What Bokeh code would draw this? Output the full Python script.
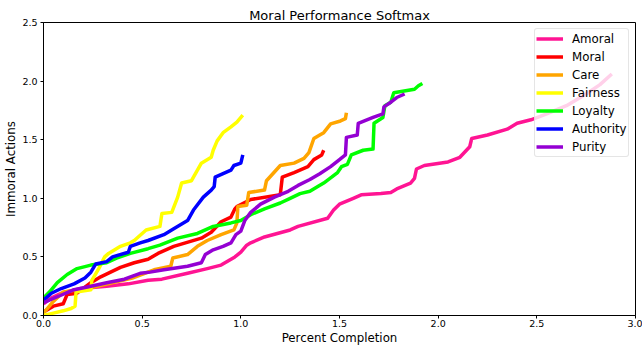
from bokeh.plotting import figure
from bokeh.models import Legend, LegendItem, Range1d, FixedTicker
from bokeh.embed import file_html
from bokeh.resources import INLINE

title_text = "Moral Performance Softmax"
x_label = "Percent Completion"
y_label = "Immoral Actions"

series_names = ["Amoral", "Moral", "Care", "Fairness", "Loyalty", "Authority", "Purity"]
series_colors = ["#FF1493", "#FF0000", "#FFA500", "#FFFF00", "#00FF00", "#0000FF", "#9400D3"]

amoral_x = [0.00, 0.04, 0.09, 0.19, 0.32, 0.43, 0.53, 0.60, 0.73, 0.83, 0.90, 0.97, 1.00, 1.03, 1.05, 1.12, 1.25, 1.29, 1.44, 1.47, 1.50, 1.57, 1.61, 1.71, 1.76, 1.79, 1.86, 1.88, 1.89, 1.93, 2.05, 2.11, 2.16, 2.17, 2.25, 2.35, 2.40, 2.47, 2.55, 2.65, 2.75, 2.82, 2.88]
amoral_y = [0.10, 0.15, 0.19, 0.23, 0.25, 0.27, 0.30, 0.31, 0.36, 0.40, 0.43, 0.50, 0.54, 0.60, 0.62, 0.67, 0.73, 0.76, 0.83, 0.90, 0.95, 1.00, 1.03, 1.04, 1.05, 1.08, 1.13, 1.17, 1.25, 1.28, 1.31, 1.35, 1.44, 1.51, 1.54, 1.59, 1.64, 1.67, 1.72, 1.79, 1.89, 1.97, 2.06]

moral_x = [0.00, 0.05, 0.10, 0.12, 0.17, 0.24, 0.29, 0.34, 0.39, 0.46, 0.53, 0.58, 0.66, 0.80, 0.85, 0.90, 0.95, 0.97, 0.98, 1.05, 1.20, 1.21, 1.27, 1.34, 1.37, 1.41, 1.42]
moral_y = [0.03, 0.08, 0.10, 0.18, 0.19, 0.28, 0.33, 0.37, 0.41, 0.45, 0.48, 0.53, 0.59, 0.66, 0.71, 0.80, 0.84, 0.91, 0.93, 0.99, 1.03, 1.18, 1.22, 1.27, 1.33, 1.37, 1.41]

care_x = [0.00, 0.05, 0.10, 0.25, 0.45, 0.56, 0.645, 0.655, 0.73, 0.78, 0.83, 0.90, 0.965, 0.98, 0.985, 1.03, 1.04, 1.12, 1.13, 1.20, 1.27, 1.32, 1.345, 1.37, 1.40, 1.42, 1.455, 1.505, 1.53, 1.535]
care_y = [0.02, 0.12, 0.20, 0.24, 0.32, 0.39, 0.42, 0.49, 0.52, 0.59, 0.64, 0.69, 0.73, 0.79, 0.93, 0.94, 1.05, 1.07, 1.15, 1.28, 1.30, 1.34, 1.39, 1.51, 1.54, 1.56, 1.635, 1.66, 1.68, 1.73]

fairness_x = [0.00, 0.05, 0.10, 0.14, 0.16, 0.165, 0.24, 0.245, 0.28, 0.31, 0.33, 0.39, 0.44, 0.46, 0.52, 0.59, 0.60, 0.65, 0.68, 0.70, 0.75, 0.77, 0.80, 0.85, 0.86, 0.88, 0.91, 0.95, 0.98, 1.01]
fairness_y = [0.00, 0.02, 0.04, 0.06, 0.08, 0.20, 0.22, 0.30, 0.40, 0.50, 0.53, 0.59, 0.62, 0.64, 0.73, 0.76, 0.87, 0.88, 1.01, 1.13, 1.15, 1.21, 1.30, 1.35, 1.41, 1.49, 1.56, 1.61, 1.65, 1.71]

loyalty_x = [0.00, 0.03, 0.07, 0.12, 0.17, 0.24, 0.32, 0.37, 0.44, 0.53, 0.59, 0.68, 0.78, 0.86, 0.95, 1.00, 1.05, 1.12, 1.20, 1.25, 1.30, 1.35, 1.39, 1.42, 1.46, 1.49, 1.51, 1.54, 1.56, 1.62, 1.67, 1.675, 1.72, 1.73, 1.76, 1.775, 1.88, 1.90, 1.92]
loyalty_y = [0.15, 0.20, 0.28, 0.35, 0.40, 0.43, 0.45, 0.49, 0.53, 0.57, 0.60, 0.66, 0.70, 0.76, 0.79, 0.81, 0.86, 0.91, 0.96, 1.00, 1.04, 1.06, 1.10, 1.13, 1.18, 1.22, 1.27, 1.29, 1.37, 1.41, 1.42, 1.64, 1.69, 1.79, 1.82, 1.90, 1.93, 1.96, 1.98]

authority_x = [0.00, 0.04, 0.09, 0.155, 0.21, 0.24, 0.265, 0.32, 0.35, 0.43, 0.44, 0.49, 0.53, 0.61, 0.66, 0.73, 0.76, 0.81, 0.85, 0.865, 0.87, 0.91, 0.95, 0.965, 1.00, 1.01]
authority_y = [0.13, 0.19, 0.23, 0.27, 0.32, 0.37, 0.44, 0.46, 0.50, 0.54, 0.59, 0.62, 0.64, 0.69, 0.74, 0.81, 0.90, 1.01, 1.07, 1.10, 1.18, 1.21, 1.24, 1.28, 1.30, 1.37]

purity_x = [0.00, 0.07, 0.155, 0.24, 0.32, 0.41, 0.49, 0.54, 0.61, 0.73, 0.80, 0.82, 0.86, 0.91, 0.95, 0.975, 1.00, 1.02, 1.05, 1.10, 1.17, 1.24, 1.29, 1.35, 1.40, 1.455, 1.50, 1.53, 1.535, 1.59, 1.595, 1.67, 1.72, 1.725, 1.76, 1.79, 1.83]
purity_y = [0.11, 0.16, 0.22, 0.25, 0.28, 0.31, 0.36, 0.37, 0.39, 0.42, 0.45, 0.52, 0.56, 0.59, 0.62, 0.69, 0.72, 0.81, 0.88, 0.95, 1.01, 1.06, 1.11, 1.16, 1.21, 1.27, 1.33, 1.37, 1.52, 1.54, 1.64, 1.69, 1.72, 1.78, 1.82, 1.86, 1.89]

x_ticks = [0.0, 0.5, 1.0, 1.5, 2.0, 2.5, 3.0]
x_tick_labels = ["0.0", "0.5", "1.0", "1.5", "2.0", "2.5", "3.0"]
y_ticks = [0.0, 0.5, 1.0, 1.5, 2.0, 2.5]
y_tick_labels = ["0.0", "0.5", "1.0", "1.5", "2.0", "2.5"]

series_x = [amoral_x, moral_x, care_x, fairness_x, loyalty_x, authority_x, purity_x]
series_y = [amoral_y, moral_y, care_y, fairness_y, loyalty_y, authority_y, purity_y]

FONT = "DejaVu Sans"

p = figure(width=642, height=347, output_backend="svg", toolbar_location=None,
           x_range=Range1d(0, 3), y_range=Range1d(0, 2.5),
           min_border_left=43, min_border_right=7, min_border_top=22, min_border_bottom=31)
p.background_fill_color = "white"
p.border_fill_color = "white"
p.outline_line_color = "black"
p.outline_line_width = 1
p.outline_line_alpha = 1
p.xgrid.visible = False
p.ygrid.visible = False

p.title.text = title_text
p.title.align = "center"
p.title.text_font = FONT
p.title.text_font_size = "13px"
p.title.text_font_style = "normal"
p.title.text_color = "black"
p.title.standoff = 0
p.title.offset = 0

items = []
for name, color, xs, ys in zip(series_names, series_colors, series_x, series_y):
    r = p.line(xs, ys, line_color=color, line_width=3.5, line_join="round")
    items.append(LegendItem(label=name, renderers=[r]))

for ax, ticks, labels in ((p.xaxis[0], x_ticks, x_tick_labels), (p.yaxis[0], y_ticks, y_tick_labels)):
    ax.ticker = FixedTicker(ticks=ticks)
    ax.major_label_overrides = {t: l for t, l in zip(ticks, labels)}
    ax.minor_tick_line_color = None
    ax.major_tick_in = 0
    ax.major_tick_out = 3
    ax.major_tick_line_color = "black"
    ax.axis_line_color = "black"
    ax.major_label_text_font = FONT
    ax.major_label_text_font_size = "9.5px"
    ax.major_label_text_color = "black"
    ax.axis_label_text_font = FONT
    ax.axis_label_text_font_size = "11.8px"
    ax.axis_label_text_font_style = "normal"
    ax.axis_label_text_color = "black"

p.xaxis.axis_label = x_label
p.yaxis.axis_label = y_label
p.xaxis.major_label_standoff = 1
p.xaxis.axis_label_standoff = 1
p.yaxis.major_label_standoff = 3
p.yaxis.axis_label_standoff = 1

legend = Legend(items=items, location="top_right", margin=6, padding=1, spacing=1,
                glyph_width=27, glyph_height=17, label_height=17, label_width=55,
                label_standoff=9, label_text_font=FONT, label_text_font_size="11.8px",
                label_text_color="black",
                border_line_color="#cccccc", border_line_width=1, border_radius=3,
                background_fill_color="white", background_fill_alpha=0.8)
p.add_layout(legend)

open("out.html", "w").write(file_html(p, INLINE))
